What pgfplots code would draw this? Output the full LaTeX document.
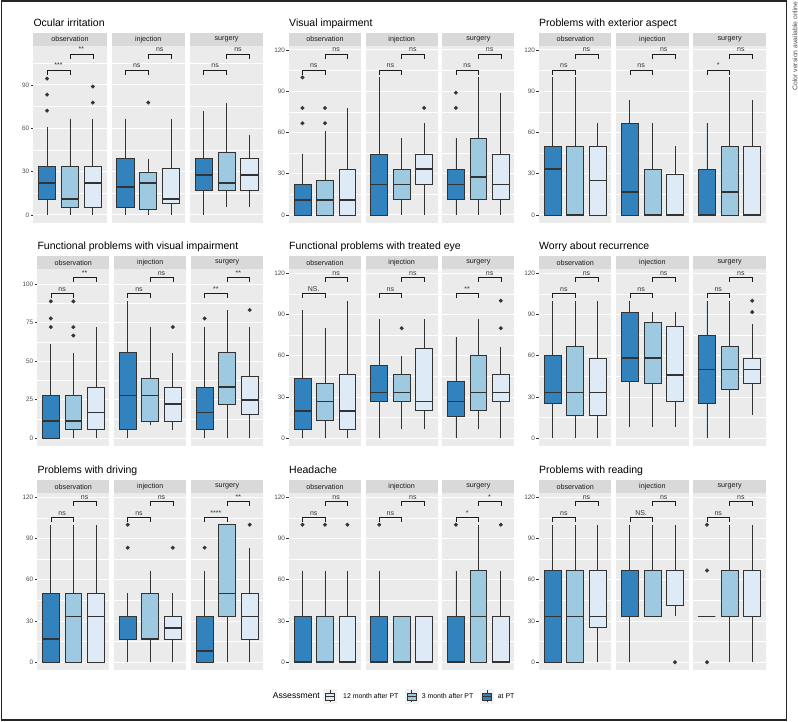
\documentclass[border=0pt]{standalone}
\usepackage{fontspec}
\setmainfont{Liberation Sans}
\usepackage{pgfplots}
\pgfplotsset{compat=1.18}
\usepgfplotslibrary{statistics}

\definecolor{cA}{HTML}{3182BD}
\definecolor{cB}{HTML}{9ECAE1}
\definecolor{cC}{HTML}{DEEBF7}
\definecolor{panelbg}{HTML}{EBEBEB}
\definecolor{stripbg}{HTML}{D9D9D9}
\definecolor{keybg}{HTML}{F2F2F2}
\definecolor{gtwenty}{HTML}{333333}
\definecolor{gthirty}{HTML}{4D4D4D}
\definecolor{gten}{HTML}{1A1A1A}

\newcommand\fs[1]{\fontsize{#1}{#1}\selectfont}

\pgfplotsset{
 facet/.style={
  scale only axis, height=177pt,
  xmin=0.4, xmax=3.6, xtick=\empty,
  axis background/.style={fill=panelbg},
  axis line style={draw=none},
  ytick pos=left, tick align=outside,
  major tick length=2.6pt, minor tick length=0pt,
  ytick style={draw=gtwenty, line width=0.8pt},
  ymajorgrids, yminorgrids,
  major grid style={white, line width=0.9pt},
  minor grid style={white, line width=0.5pt},
  yticklabel style={font=\fs{6.4}, text=gthirty, inner xsep=1.2pt},
  /pgf/number format/assume math mode=true,
  clip=false, anchor=north west,
  boxplot/draw direction=y,
 },
 thirty/.style={ytick={0,30,60,90,120}, minor ytick={15,45,75,105}},
 quarter/.style={ytick={0,25,50,75,100}, minor ytick={12.5,37.5,62.5,87.5}},
 nolab/.style={yticklabels={}, major tick length=0pt},
 bxs/.style={draw=gtwenty, line width=0.75pt, mark=*, mark size=1.9pt,
   mark options={fill=gtwenty, draw=gtwenty, line width=0.2pt, solid},
   boxplot/draw direction=y,
   boxplot/box extend=0.75, boxplot/whisker extend=0,
   boxplot/every median/.style={line width=1.7pt}},
 brk/.style={gten, line width=0.5pt, mark=none},
}

\newcommand{\setM}[1]{%
 \pgfmathsetmacro\Mlo{-0.05*#1}\pgfmathsetmacro\Mhi{1.05*#1}%
 \pgfmathsetmacro\Ba{0.9*#1}\pgfmathsetmacro\Bat{0.87*#1}%
 \pgfmathsetmacro\Bb{#1}\pgfmathsetmacro\Bbt{0.97*#1}}

\newcommand{\bx}[8]{\addplot[bxs, fill=#2, boxplot prepared={draw position=#1, lower whisker=#3, lower quartile=#4, median=#5, upper quartile=#6, upper whisker=#7}] coordinates {#8};}

\newcommand{\strip}[1]{%
 \fill[stripbg] (rel axis cs:0,1) rectangle ([yshift=13.3pt]rel axis cs:1,1);
 \node[font=\fs{7.2}, text=gten, inner sep=0] at ([yshift=6.65pt]rel axis cs:0.5,1) {#1};}

\newcommand{\brks}[2]{%
 \addplot[brk] coordinates {(1,\Bat) (1,\Ba) (2,\Ba) (2,\Bat)};
 \addplot[brk] coordinates {(2,\Bbt) (2,\Bb) (3,\Bb) (3,\Bbt)};
 \node[font=\fs{7}, text=gtwenty, anchor=base, inner sep=0] at ([yshift=2.2pt]axis cs:1.5,\Ba) {#1};
 \node[font=\fs{7}, text=gtwenty, anchor=base, inner sep=0] at ([yshift=2.2pt]axis cs:2.5,\Bb) {#2};}

\newcommand{\facet}[6]{%
 \begin{axis}[facet, at={(#1pt,#2pt)}, width=#3pt, ymin=\Mlo, ymax=\Mhi, #4]
 \strip{#5}
 #6
 \end{axis}}

\newcommand{\ptitle}[3]{\node[anchor=base west, font=\fs{10.5}, inner sep=0] at (#1pt,#2pt) {#3};}

\begin{document}
\begin{tikzpicture}
\path[use as bounding box] (0,0) rectangle (798pt,722pt);

% ---------------- Row 1 ----------------
\ptitle{33.3}{695.3}{Ocular irritation}
\setM{111.4}
\facet{33.3}{676}{73.3}{thirty}{observation}{
\bx{1}{cA}{0}{11.1}{22.2}{33.3}{61.1}{(1,72.2) (1,83.3) (1,94.4)}
\bx{2}{cB}{0}{5.56}{11.1}{33.3}{66.7}{}
\bx{3}{cC}{0}{5.56}{22.2}{33.3}{66.7}{(3,77.8) (3,88.9)}
\brks{***}{**}}
\facet{111.6}{676}{73.3}{thirty,nolab}{injection}{
\bx{1}{cA}{0}{5.56}{19.4}{38.9}{66.7}{}
\bx{2}{cB}{0}{4.17}{22.2}{29.2}{38.9}{(2,77.8)}
\bx{3}{cC}{0}{8.3}{11.1}{31.9}{66.7}{}
\brks{ns}{ns}}
\facet{189.9}{676}{73.3}{thirty,nolab}{surgery}{
\bx{1}{cA}{0}{16.7}{27.8}{38.9}{72.2}{}
\bx{2}{cB}{5.56}{16.7}{22.2}{43.1}{77.8}{}
\bx{3}{cC}{5.56}{16.7}{27.8}{38.9}{55.6}{}
\brks{ns}{ns}}

\ptitle{289}{695.3}{Visual impairment}
\setM{117}
\facet{289}{676}{71.9}{thirty}{observation}{
\bx{1}{cA}{0}{0}{11.1}{22.2}{44.4}{(1,66.7) (1,77.8) (1,100)}
\bx{2}{cB}{0}{0}{11.1}{25}{61.1}{(2,66.7) (2,77.8)}
\bx{3}{cC}{0}{0}{11.1}{33.3}{77.8}{}
\brks{ns}{ns}}
\facet{365.7}{676}{71.9}{thirty,nolab}{injection}{
\bx{1}{cA}{0}{0}{22.2}{44.4}{100}{}
\bx{2}{cB}{0}{11.1}{22.2}{33.3}{55.6}{}
\bx{3}{cC}{0}{22.2}{33.3}{44.4}{66.7}{(3,77.8)}
\brks{ns}{ns}}
\facet{442.4}{676}{71.9}{thirty,nolab}{surgery}{
\bx{1}{cA}{0}{11.1}{22.2}{33.3}{55.6}{(1,77.8) (1,88.9)}
\bx{2}{cB}{0}{11.1}{27.8}{55.6}{100}{}
\bx{3}{cC}{0}{11.1}{22.2}{44.4}{88.9}{}
\brks{ns}{ns}}

\ptitle{539}{695.3}{Problems with exterior aspect}
\setM{117}
\facet{539}{676}{72.4}{thirty}{observation}{
\bx{1}{cA}{0}{0}{33.3}{50}{100}{}
\bx{2}{cB}{0}{0}{0}{50}{100}{}
\bx{3}{cC}{0}{0}{25}{50}{66.7}{}
\brks{ns}{ns}}
\facet{616.2}{676}{72.4}{thirty,nolab}{injection}{
\bx{1}{cA}{0}{0}{16.7}{66.7}{83.3}{}
\bx{2}{cB}{0}{0}{0}{33.3}{66.7}{}
\bx{3}{cC}{0}{0}{0}{29.2}{50}{}
\brks{ns}{ns}}
\facet{693.4}{676}{72.4}{thirty,nolab}{surgery}{
\bx{1}{cA}{0}{0}{0}{33.3}{66.7}{}
\bx{2}{cB}{0}{0}{16.7}{50}{100}{}
\bx{3}{cC}{0}{0}{0}{50}{83.3}{}
\brks{*}{ns}}

% ---------------- Row 2 ----------------
\ptitle{37.3}{472}{Functional problems with visual impairment}
\setM{104.5}
\facet{37.3}{452.7}{72.1}{quarter}{observation}{
\bx{1}{cA}{0}{0}{11.1}{27.8}{61.1}{(1,72.2) (1,77.8) (1,88.9)}
\bx{2}{cB}{0}{5.56}{11.1}{27.8}{55.6}{(2,66.7) (2,72.2) (2,88.9)}
\bx{3}{cC}{0}{5.56}{16.7}{33.3}{72.2}{}
\brks{ns}{**}}
\facet{114.2}{452.7}{72.1}{quarter,nolab}{injection}{
\bx{1}{cA}{0}{5.56}{27.8}{55.6}{88.9}{}
\bx{2}{cB}{8.3}{11.1}{27.8}{38.9}{72.2}{}
\bx{3}{cC}{5.56}{11.1}{22.2}{33.3}{55.6}{(3,72.2)}
\brks{ns}{ns}}
\facet{191.1}{452.7}{72.1}{quarter,nolab}{surgery}{
\bx{1}{cA}{0}{5.56}{16.7}{33.3}{72.2}{(1,77.8)}
\bx{2}{cB}{0}{22.2}{33.3}{55.6}{83.3}{}
\bx{3}{cC}{0}{15.2}{25}{40}{72.2}{(3,83.3)}
\brks{**}{**}}

\ptitle{289}{472}{Functional problems with treated eye}
\setM{117}
\facet{289}{452.7}{71.9}{thirty}{observation}{
\bx{1}{cA}{0}{6.7}{20}{43.3}{93.3}{}
\bx{2}{cB}{0}{13.3}{26.7}{40}{80}{}
\bx{3}{cC}{0}{6.7}{20}{46.7}{100}{}
\brks{NS.}{ns}}
\facet{365.7}{452.7}{71.9}{thirty,nolab}{injection}{
\bx{1}{cA}{0}{26.7}{33.3}{53.3}{86.7}{}
\bx{2}{cB}{6.7}{26.7}{33.3}{46.7}{60}{(2,80)}
\bx{3}{cC}{6.7}{20}{26.7}{65}{86.7}{}
\brks{ns}{ns}}
\facet{442.4}{452.7}{71.9}{thirty,nolab}{surgery}{
\bx{1}{cA}{0}{15.8}{26.7}{41.7}{73.3}{}
\bx{2}{cB}{6.7}{20}{33.3}{60}{86.7}{}
\bx{3}{cC}{0}{26.7}{33.3}{46.7}{66.7}{(3,80) (3,100)}
\brks{**}{ns}}

\ptitle{539}{472}{Worry about recurrence}
\setM{117}
\facet{539}{452.7}{72.4}{thirty}{observation}{
\bx{1}{cA}{0}{25}{33.3}{60.4}{100}{}
\bx{2}{cB}{0}{16.7}{33.3}{66.7}{100}{}
\bx{3}{cC}{0}{16.7}{33.3}{58.3}{100}{}
\brks{ns}{ns}}
\facet{616.2}{452.7}{72.4}{thirty,nolab}{injection}{
\bx{1}{cA}{8.3}{41.7}{58.3}{91.7}{100}{}
\bx{2}{cB}{8.3}{39.6}{58.3}{84.4}{91.7}{}
\bx{3}{cC}{8.3}{27.1}{45.8}{81.2}{91.7}{}
\brks{ns}{ns}}
\facet{693.4}{452.7}{72.4}{thirty,nolab}{surgery}{
\bx{1}{cA}{0}{25}{50}{75}{100}{}
\bx{2}{cB}{0}{35.4}{50}{66.7}{100}{}
\bx{3}{cC}{16.7}{39.6}{50}{58.3}{83.3}{(3,91.7) (3,100)}
\brks{ns}{ns}}

% ---------------- Row 3 ----------------
\ptitle{37.3}{248}{Problems with driving}
\setM{117}
\facet{37.3}{228.7}{72.1}{thirty}{observation}{
\bx{1}{cA}{0}{0}{16.7}{50}{100}{}
\bx{2}{cB}{0}{0}{33.3}{50}{100}{}
\bx{3}{cC}{0}{0}{33.3}{50}{100}{}
\brks{ns}{ns}}
\facet{114.2}{228.7}{72.1}{thirty,nolab}{injection}{
\bx{1}{cA}{0}{16.7}{33.3}{33.3}{50}{(1,83.3) (1,100)}
\bx{2}{cB}{0}{16.7}{16.7}{50}{66.7}{}
\bx{3}{cC}{0}{16.7}{25}{33.3}{50}{(3,83.3)}
\brks{ns}{ns}}
\facet{191.1}{228.7}{72.1}{thirty,nolab}{surgery}{
\bx{1}{cA}{0}{0}{8.3}{33.3}{66.7}{(1,83.3)}
\bx{2}{cB}{0}{33.3}{50}{100}{100}{}
\bx{3}{cC}{0}{16.7}{33.3}{50}{83.3}{(3,100)}
\brks{****}{**}}

\ptitle{289}{248}{Headache}
\setM{117}
\facet{289}{228.7}{71.9}{thirty}{observation}{
\bx{1}{cA}{0}{0}{0}{33.3}{66.7}{(1,100)}
\bx{2}{cB}{0}{0}{0}{33.3}{66.7}{(2,100)}
\bx{3}{cC}{0}{0}{0}{33.3}{66.7}{(3,100)}
\brks{ns}{ns}}
\facet{365.7}{228.7}{71.9}{thirty,nolab}{injection}{
\bx{1}{cA}{0}{0}{0}{33.3}{66.7}{(1,100)}
\bx{2}{cB}{0}{0}{0}{33.3}{33.3}{}
\bx{3}{cC}{0}{0}{0}{33.3}{33.3}{}
\brks{ns}{ns}}
\facet{442.4}{228.7}{71.9}{thirty,nolab}{surgery}{
\bx{1}{cA}{0}{0}{0}{33.3}{66.7}{(1,100)}
\bx{2}{cB}{0}{0}{33.3}{66.7}{100}{}
\bx{3}{cC}{0}{0}{0}{33.3}{66.7}{(3,100)}
\brks{*}{*}}

\ptitle{539}{248}{Problems with reading}
\setM{117}
\facet{539}{228.7}{72.4}{thirty}{observation}{
\bx{1}{cA}{0}{0}{33.3}{66.7}{100}{}
\bx{2}{cB}{0}{0}{33.3}{66.7}{100}{}
\bx{3}{cC}{0}{25}{33.3}{66.7}{100}{}
\brks{ns}{ns}}
\facet{616.2}{228.7}{72.4}{thirty,nolab}{injection}{
\bx{1}{cA}{0}{33.3}{66.7}{66.7}{100}{}
\bx{2}{cB}{33.3}{33.3}{66.7}{66.7}{100}{}
\bx{3}{cC}{33.3}{41.7}{66.7}{66.7}{100}{(3,0)}
\brks{NS.}{ns}}
\facet{693.4}{228.7}{72.4}{thirty,nolab}{surgery}{
\bx{1}{cA}{33.3}{33.3}{33.3}{33.3}{33.3}{(1,0) (1,66.7) (1,100)}
\bx{2}{cB}{0}{33.3}{33.3}{66.7}{100}{}
\bx{3}{cC}{0}{33.3}{33.3}{66.7}{100}{}
\brks{ns}{ns}}

% ---------------- Legend ----------------
\node[anchor=base west, font=\fs{8.6}, inner sep=0] at (272.7pt,23pt) {Assessment};
\foreach \cx/\col/\lx/\lab in {330/cC/343/12 month after PT, 411.5/cB/421.7/3 month after PT, 487.3/cA/497.7/at PT}{
 \fill[keybg] (\cx pt-7pt,18pt) rectangle (\cx pt+7pt,33pt);
 \draw[gtwenty, line width=0.7pt] (\cx pt,19.5pt) -- (\cx pt,31.5pt);
 \filldraw[fill=\col, draw=gtwenty, line width=0.7pt] (\cx pt-4.5pt,22pt) rectangle (\cx pt+4.5pt,29pt);
 \draw[gtwenty, line width=1.4pt] (\cx pt-4.5pt,25.5pt) -- (\cx pt+4.5pt,25.5pt);
 \node[anchor=base west, font=\fs{6.9}, inner sep=0] at (\lx pt,23.3pt) {\lab};
}

% ---------------- Frame and side note ----------------
\draw[line width=1.4pt, black!85] (1.2pt,1.8pt) rectangle (786.7pt,720.8pt);
\node[rotate=90, font=\fs{6.8}, text=gthirty, inner sep=0] at (795pt,676pt) {Color version available online};
\end{tikzpicture}
\end{document}
